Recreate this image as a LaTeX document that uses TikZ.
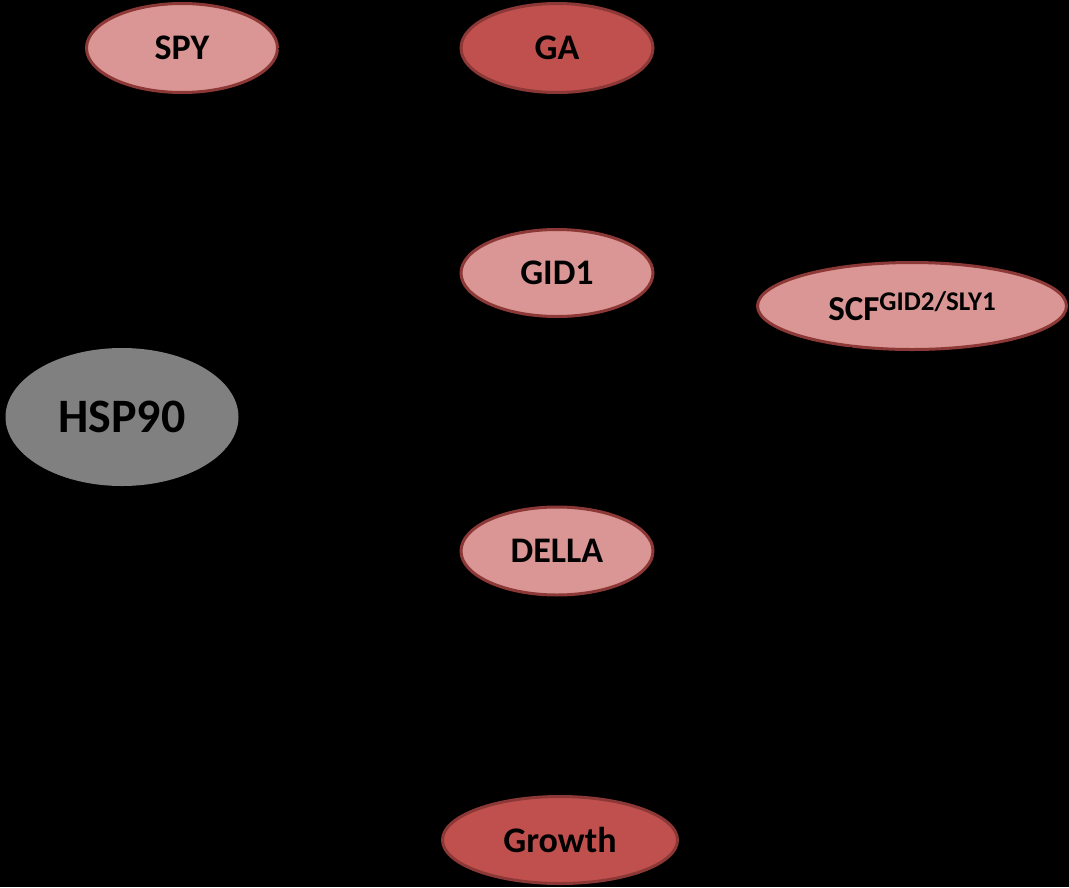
\documentclass[tikz,border=0pt]{standalone}
\usepackage{fontspec}
\usepackage{graphicx}
\setmainfont{Carlito}
\usetikzlibrary{shapes.geometric,arrows.meta}
\definecolor{lightred}{HTML}{D99694}
\definecolor{darkred}{HTML}{C0504D}
\definecolor{borderred}{HTML}{8C3836}
\definecolor{hspgray}{HTML}{808080}
\tikzset{
  gene/.style={ellipse, draw=borderred, line width=3pt, inner sep=0pt,
    font=\fontsize{36}{38}\selectfont\bfseries, text=black},
  pale/.style={gene, fill=lightred},
  deep/.style={gene, fill=darkred},
  link/.style={draw=black, line width=2pt, -{Stealth[length=12pt]}}
}
\begin{document}
\begin{tikzpicture}[x=1pt,y=-1pt]
\fill[black] (0,0) rectangle (1069,887);
\useasboundingbox (0,0) rectangle (1069,887);
\node[pale, minimum width=191pt, minimum height=89pt] (spy) at (182,48) {SPY};
\node[deep, minimum width=192pt, minimum height=89pt] (ga) at (557,48) {GA};
\node[pale, minimum width=192pt, minimum height=87pt] (gid) at (557,273) {GID1};
\node[pale, minimum width=309pt, minimum height=87pt] (scf) at (912,306) {\fontsize{35}{37}\selectfont SCF\raisebox{10pt}{\fontsize{27}{29}\selectfont GID2/SLY1}};
\node[ellipse, fill=hspgray, inner sep=0pt, minimum width=233pt, minimum height=138pt,
  font=\fontsize{48}{50}\selectfont\bfseries] (hsp) at (122,417) {HSP90};
\node[pale, minimum width=192pt, minimum height=88pt] (della) at (557,551) {DELLA};
\node[deep, minimum width=235pt, minimum height=87pt] (growth) at (560,840) {Growth};
\draw[link] (ga) -- (gid);
\draw[link] (gid) -- (della);
\draw[link] (della) -- (growth);
\draw[link] (spy.east) -- (della);
\draw[link] (scf) -- (della);
\draw[link] (hsp) -- (della);
\end{tikzpicture}
\end{document}
